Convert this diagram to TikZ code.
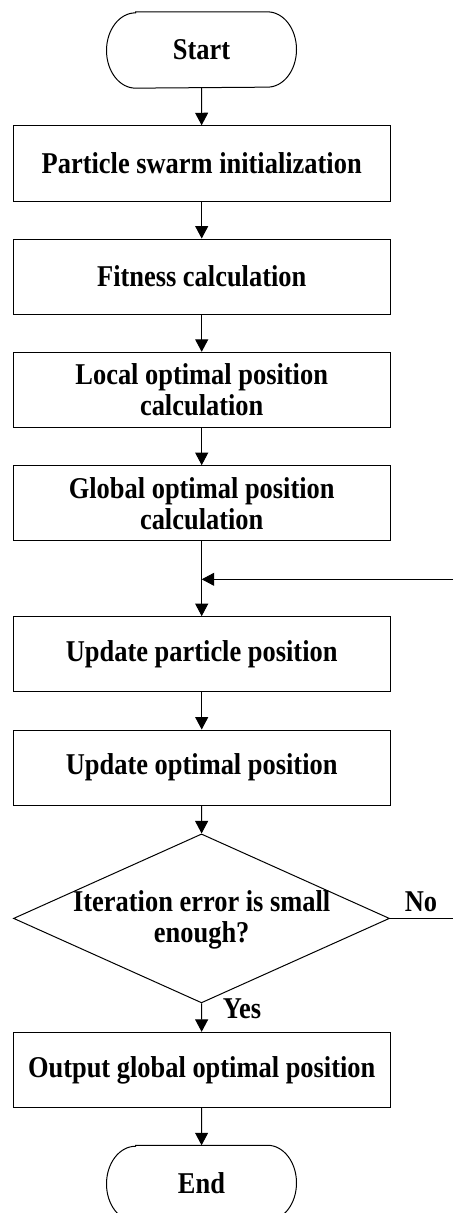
\documentclass[tikz,border=0pt]{standalone}
\usepackage{fontspec}
\setmainfont{Liberation Serif}[FakeStretch=0.875]
\usetikzlibrary{arrows.meta,shapes.geometric}

\begin{document}
\begin{tikzpicture}[x=1pt,y=-1pt,
  line width=1pt,
  every node/.style={font=\bfseries\fontsize{30.2}{31}\selectfont, inner sep=0pt},
  procbox/.style={draw, rectangle, minimum width=376.7pt, minimum height=75.3pt, align=center},
  terminal/.style={minimum width=189pt, minimum height=75.3pt},
  decision/.style={draw, diamond, minimum width=376pt, minimum height=169pt},
  flow/.style={-{Triangle[length=12.5pt,width=13pt]}},
  lbl/.style={align=center}
]
\useasboundingbox (0,0) rectangle (453,1213);
\clip (0,0) rectangle (453,1213);

% terminals (outline drawn below) and process steps
\node[terminal] (start) at (201.5,50) {Start};
\node[procbox] (init)   at (201.7,163.4) {Particle swarm initialization};
\node[procbox] (fit)    at (201.7,276.7) {Fitness calculation};
\node[procbox] (local)  at (201.7,390)   {Local optimal position\\calculation};
\node[procbox] (global) at (201.7,503.3) {Global optimal position\\calculation};
\node[procbox] (upart)  at (201.7,654.3) {Update particle position};
\node[procbox] (uopt)   at (201.7,767.7) {Update optimal position};
\node[decision] (check) at (201.5,918.4) {};
\node[lbl] (checktxt) at (201.7,920.3) {Iteration error is small\\enough?};
\node[procbox] (out)    at (201.7,1070)  {Output global optimal position};
\node[terminal] (stop)  at (201.5,1183.4) {End};

% stadium outlines with elliptical ends
\foreach \n in {start,stop} {
  \draw ([xshift=29pt]\n.north west) -- ([xshift=-29pt]\n.north east)
    arc[start angle=90, end angle=-90, x radius=29pt, y radius=37.65pt]
    -- ([xshift=29pt]\n.south west)
    arc[start angle=270, end angle=90, x radius=29pt, y radius=37.65pt]
    -- cycle;
}

% main flow
\draw[flow] (start) -- (init);
\draw[flow] (init) -- (fit);
\draw[flow] (fit) -- (local);
\draw[flow] (local) -- (global);
\draw[flow] (global) -- (upart);
\draw[flow] (upart) -- (uopt);
\draw[flow] (uopt) -- (check);
\draw[flow] (check) -- (out);
\draw[flow] (out) -- (stop);

% loop back when the error is still too large
\coordinate (noend) at (453,918.4);
\coordinate (backin) at (453,579.3);
\draw (check.east) -- (noend);
\draw[flow] (backin) -- (backin -| global.south);

\node[anchor=base] (no)  at (421,911.7) {No};
\node[anchor=base] (yes) at (242,1018)  {Yes};
\end{tikzpicture}
\end{document}
